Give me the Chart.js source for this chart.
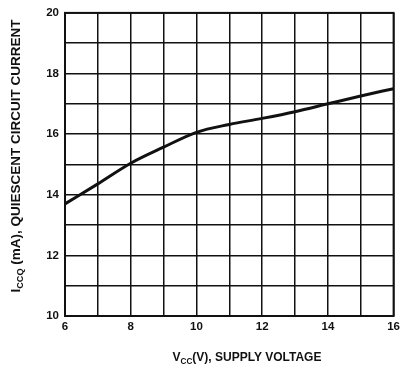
<!DOCTYPE html>
<html>
<head>
<meta charset="utf-8">
<script src="https://cdn.jsdelivr.net/npm/chart.js@4/dist/chart.umd.min.js"></script>
<style>
  html, body { margin: 0; padding: 0; background: #fff; }
  #wrap { width: 404px; height: 369px; position: relative; }
</style>
</head>
<body>
<div id="wrap"><canvas id="chart"></canvas></div>
<script>
// supply voltage (V) and quiescent current (mA)
const vcc  = [6, 7, 8, 9, 10, 11, 12, 13, 14, 15, 16];
const iccq = [13.7, 14.36, 15.04, 15.57, 16.06, 16.32, 16.52, 16.74, 17.0, 17.26, 17.5];

const xLabels = [6, 8, 10, 12, 14, 16];
const yLabels = [10, 12, 14, 16, 18, 20];

const FONT = '"Liberation Sans", Arial, Helvetica, sans-serif';
const INK = '#111';

// draws text with subscript parts, centered on 0,0 of the current transform
function subText(ctx, parts, size) {
  let total = 0;
  const sized = parts.map(p => {
    const fs = p.sub ? size * 0.68 : size;
    ctx.font = `bold ${fs}px ${FONT}`;
    const w = ctx.measureText(p.t).width;
    total += w;
    return { ...p, fs, w };
  });
  let x = -total / 2;
  ctx.textBaseline = 'middle';
  ctx.textAlign = 'left';
  sized.forEach(p => {
    ctx.font = `bold ${p.fs}px ${FONT}`;
    ctx.fillText(p.t, x, p.sub ? size * 0.3 : 0);
    x += p.w;
  });
}

const axisTitles = {
  id: 'axisTitles',
  afterDraw(chart) {
    const ctx = chart.ctx;
    const a = chart.chartArea;
    ctx.save();
    ctx.fillStyle = INK;
    // y title
    ctx.save();
    ctx.translate(16, 156);
    ctx.rotate(-Math.PI / 2);
    subText(ctx, [{ t: 'I' }, { t: 'CCQ', sub: true }, { t: ' (mA), QUIESCENT CIRCUIT CURRENT' }], 13.5);
    ctx.restore();
    // x title
    ctx.save();
    ctx.translate(247, 358);
    subText(ctx, [{ t: 'V' }, { t: 'CC', sub: true }, { t: '(V), SUPPLY VOLTAGE' }], 12);
    ctx.restore();
    // frame
    ctx.strokeStyle = INK;
    ctx.lineWidth = 2;
    ctx.strokeRect(a.left, a.top, a.right - a.left, a.bottom - a.top);
    ctx.restore();
  }
};

new Chart(document.getElementById('chart'), {
  type: 'line',
  data: {
    datasets: [{
      data: vcc.map((v, i) => ({ x: v, y: iccq[i] })),
      borderColor: INK,
      borderWidth: 3,
      pointRadius: 0,
      tension: 0.4,
      cubicInterpolationMode: 'monotone',
      fill: false
    }]
  },
  options: {
    responsive: true,
    maintainAspectRatio: false,
    animation: false,
    layout: { padding: { top: 8, right: 1, left: 0, bottom: 0 } },
    plugins: { legend: { display: false }, tooltip: { enabled: false } },
    scales: {
      x: {
        type: 'linear', min: 6, max: 16,
        afterFit: s => { s.height = 53; },
        grid: { color: INK, lineWidth: 1.5, drawTicks: false },
        border: { display: false },
        ticks: {
          stepSize: 1, padding: 4, color: INK, maxRotation: 0, autoSkip: false,
          font: { family: FONT, size: 11.5, weight: 'bold' },
          callback: v => xLabels.includes(v) ? String(v) : ''
        }
      },
      y: {
        type: 'linear', min: 10, max: 20,
        afterFit: s => { s.width = 65; },
        grid: { color: INK, lineWidth: 1.5, drawTicks: false },
        border: { display: false },
        ticks: {
          stepSize: 1, padding: 6, color: INK, autoSkip: false,
          font: { family: FONT, size: 11.5, weight: 'bold' },
          callback: v => yLabels.includes(v) ? String(v) : ''
        }
      }
    }
  },
  plugins: [axisTitles]
});
</script>
</body>
</html>
